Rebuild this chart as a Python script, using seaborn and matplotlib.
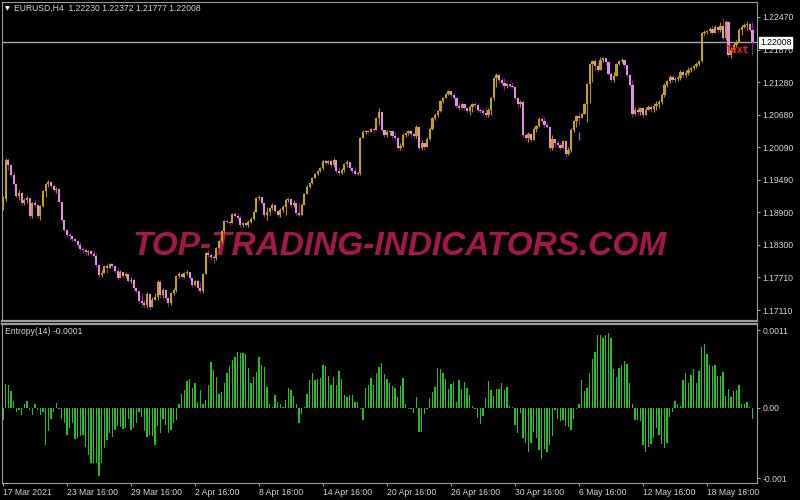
import numpy as np
import pandas as pd
import matplotlib
matplotlib.use("Agg")
import matplotlib.pyplot as plt
import seaborn as sns
from matplotlib import font_manager

# ------------------------------
# EURUSD H4 candles (open = previous close)
# ------------------------------
first_open = 1.1903

close = [
    1.1914, 1.1985, 1.1976, 1.1958, 1.1942, 1.1919, 1.1925, 1.1907, 1.1912, 1.1916,
    1.1883, 1.1907, 1.1903, 1.1883, 1.1901, 1.1929, 1.1942, 1.1945, 1.1938, 1.1931,
    1.1932, 1.1909, 1.1876, 1.1857, 1.1848, 1.1846, 1.1841, 1.1837, 1.1830, 1.1822,
    1.1821, 1.1817, 1.1819, 1.1813, 1.1810, 1.1793, 1.1775, 1.1779, 1.1791, 1.1788,
    1.1795, 1.1791, 1.1782, 1.1769, 1.1780, 1.1773, 1.1777, 1.1764, 1.1766, 1.1751,
    1.1746, 1.1727, 1.1724, 1.1720, 1.1740, 1.1716, 1.1729, 1.1735, 1.1762, 1.1738,
    1.1747, 1.1733, 1.1724, 1.1742, 1.1747, 1.1773, 1.1777, 1.1771, 1.1779, 1.1780,
    1.1769, 1.1757, 1.1764, 1.1751, 1.1746, 1.1777, 1.1815, 1.1812, 1.1808, 1.1806,
    1.1824, 1.1837, 1.1855, 1.1874, 1.1872, 1.1870, 1.1887, 1.1883, 1.1879, 1.1866,
    1.1870, 1.1866, 1.1872, 1.1877, 1.1890, 1.1916, 1.1918, 1.1907, 1.1885, 1.1890,
    1.1898, 1.1903, 1.1892, 1.1885, 1.1894, 1.1900, 1.1912, 1.1914, 1.1903, 1.1907,
    1.1888, 1.1885, 1.1903, 1.1923, 1.1936, 1.1944, 1.1953, 1.1960, 1.1965, 1.1971,
    1.1984, 1.1980, 1.1984, 1.1976, 1.1985, 1.1965, 1.1962, 1.1967, 1.1978, 1.1982,
    1.1971, 1.1965, 1.1960, 1.1962, 1.2026, 1.2037, 1.2038, 1.2037, 1.2042, 1.2040,
    1.2062, 1.2073, 1.2040, 1.2031, 1.2037, 1.2038, 1.2029, 1.2026, 1.2007, 1.2011,
    1.2031, 1.2035, 1.2038, 1.2033, 1.2029, 1.2046, 1.2007, 1.2016, 1.2009, 1.2024,
    1.2042, 1.2062, 1.2068, 1.2075, 1.2093, 1.2099, 1.2106, 1.2112, 1.2104, 1.2099,
    1.2084, 1.2081, 1.2088, 1.2081, 1.2075, 1.2083, 1.2088, 1.2086, 1.2077, 1.2075,
    1.2072, 1.2068, 1.2077, 1.2099, 1.2135, 1.2141, 1.2132, 1.2126, 1.2121, 1.2124,
    1.2121, 1.2119, 1.2099, 1.2088, 1.2092, 1.2031, 1.2026, 1.2033, 1.2022, 1.2042,
    1.2048, 1.2060, 1.2057, 1.2049, 1.2046, 1.2007, 1.2024, 1.2016, 1.2013, 1.2007,
    1.2020, 1.1996, 1.2004, 1.2040, 1.2057, 1.2066, 1.2062, 1.2070, 1.2088, 1.2124,
    1.2161, 1.2166, 1.2157, 1.2150, 1.2168, 1.2172, 1.2165, 1.2143, 1.2132, 1.2139,
    1.2161, 1.2166, 1.2168, 1.2159, 1.2141, 1.2123, 1.2070, 1.2077, 1.2073, 1.2081,
    1.2068, 1.2077, 1.2083, 1.2079, 1.2084, 1.2088, 1.2092, 1.2104, 1.2123, 1.2130,
    1.2137, 1.2132, 1.2133, 1.2135, 1.2146, 1.2141, 1.2144, 1.2150, 1.2154, 1.2157,
    1.2161, 1.2166, 1.2218, 1.2220, 1.2221, 1.2225, 1.2218, 1.2229, 1.2223, 1.2231,
    1.2209, 1.2238, 1.2177, 1.2187, 1.2196, 1.2201, 1.2223, 1.2229, 1.2232, 1.2234,
    1.2223, 1.22008,
]

high = [
    1.1919, 1.1989, 1.1989, 1.1976, 1.1964, 1.1944, 1.1931, 1.1927, 1.1916, 1.1919,
    1.1916, 1.1909, 1.1912, 1.1903, 1.1903, 1.1931, 1.1944, 1.1949, 1.1947, 1.1940,
    1.1936, 1.1934, 1.1909, 1.1876, 1.1857, 1.1852, 1.1848, 1.1843, 1.1839, 1.1835,
    1.1826, 1.1824, 1.1821, 1.1821, 1.1821, 1.1815, 1.1793, 1.1784, 1.1793, 1.1797,
    1.1797, 1.1797, 1.1791, 1.1788, 1.1784, 1.1780, 1.1780, 1.1777, 1.1771, 1.1769,
    1.1753, 1.1746, 1.1742, 1.1729, 1.1744, 1.1742, 1.1735, 1.1742, 1.1766, 1.1766,
    1.1751, 1.1747, 1.1735, 1.1744, 1.1751, 1.1775, 1.1780, 1.1779, 1.1780, 1.1784,
    1.1780, 1.1769, 1.1766, 1.1766, 1.1762, 1.1779, 1.1817, 1.1821, 1.1815, 1.1812,
    1.1826, 1.1839, 1.1857, 1.1876, 1.1876, 1.1876, 1.1888, 1.1890, 1.1888, 1.1885,
    1.1872, 1.1872, 1.1876, 1.1881, 1.1894, 1.1918, 1.1921, 1.1918, 1.1907, 1.1900,
    1.1900, 1.1907, 1.1903, 1.1894, 1.1898, 1.1903, 1.1916, 1.1916, 1.1914, 1.1912,
    1.1907, 1.1907, 1.1907, 1.1925, 1.1940, 1.1945, 1.1954, 1.1962, 1.1967, 1.1973,
    1.1985, 1.1985, 1.1985, 1.1985, 1.1989, 1.1985, 1.1973, 1.1971, 1.1980, 1.1985,
    1.1982, 1.1973, 1.1973, 1.1964, 1.2027, 1.2040, 1.2040, 1.2040, 1.2044, 1.2046,
    1.2064, 1.2081, 1.2073, 1.2040, 1.2040, 1.2040, 1.2038, 1.2037, 1.2027, 1.2016,
    1.2035, 1.2037, 1.2040, 1.2040, 1.2035, 1.2049, 1.2046, 1.2022, 1.2016, 1.2027,
    1.2046, 1.2064, 1.2072, 1.2077, 1.2095, 1.2101, 1.2108, 1.2113, 1.2112, 1.2108,
    1.2101, 1.2090, 1.2090, 1.2088, 1.2083, 1.2086, 1.2090, 1.2092, 1.2090, 1.2081,
    1.2081, 1.2083, 1.2081, 1.2101, 1.2137, 1.2145, 1.2145, 1.2135, 1.2135, 1.2126,
    1.2126, 1.2128, 1.2119, 1.2099, 1.2095, 1.2095, 1.2035, 1.2037, 1.2035, 1.2046,
    1.2049, 1.2064, 1.2068, 1.2064, 1.2055, 1.2046, 1.2031, 1.2024, 1.2022, 1.2016,
    1.2022, 1.2022, 1.2009, 1.2044, 1.2059, 1.2068, 1.2072, 1.2072, 1.2090, 1.2126,
    1.2163, 1.2168, 1.2172, 1.2165, 1.2174, 1.2174, 1.2172, 1.2165, 1.2146, 1.2146,
    1.2163, 1.2168, 1.2172, 1.2165, 1.2150, 1.2141, 1.2132, 1.2083, 1.2083, 1.2083,
    1.2083, 1.2083, 1.2086, 1.2086, 1.2090, 1.2093, 1.2095, 1.2108, 1.2126, 1.2132,
    1.2141, 1.2141, 1.2137, 1.2139, 1.2150, 1.2150, 1.2150, 1.2155, 1.2155, 1.2159,
    1.2165, 1.2168, 1.2220, 1.2223, 1.2223, 1.2229, 1.2232, 1.2232, 1.2229, 1.2238,
    1.2245, 1.2242, 1.2238, 1.2192, 1.2201, 1.2205, 1.2227, 1.2232, 1.2236, 1.2240,
    1.2238, 1.22372,
]

low = [
    1.1894, 1.1910, 1.1967, 1.1954, 1.1940, 1.1916, 1.1912, 1.1903, 1.1903, 1.1907,
    1.1879, 1.1879, 1.1900, 1.1879, 1.1876, 1.1900, 1.1918, 1.1936, 1.1934, 1.1927,
    1.1925, 1.1907, 1.1872, 1.1854, 1.1844, 1.1839, 1.1837, 1.1835, 1.1826, 1.1821,
    1.1815, 1.1812, 1.1812, 1.1810, 1.1808, 1.1789, 1.1771, 1.1771, 1.1779, 1.1779,
    1.1788, 1.1788, 1.1779, 1.1766, 1.1769, 1.1769, 1.1769, 1.1762, 1.1760, 1.1747,
    1.1742, 1.1724, 1.1716, 1.1714, 1.1714, 1.1711, 1.1716, 1.1729, 1.1729, 1.1733,
    1.1733, 1.1729, 1.1716, 1.1720, 1.1738, 1.1744, 1.1769, 1.1769, 1.1769, 1.1775,
    1.1766, 1.1753, 1.1755, 1.1747, 1.1742, 1.1742, 1.1777, 1.1808, 1.1802, 1.1797,
    1.1802, 1.1824, 1.1833, 1.1852, 1.1870, 1.1866, 1.1870, 1.1881, 1.1876, 1.1863,
    1.1863, 1.1863, 1.1863, 1.1870, 1.1876, 1.1890, 1.1912, 1.1903, 1.1881, 1.1876,
    1.1885, 1.1894, 1.1888, 1.1881, 1.1881, 1.1890, 1.1885, 1.1909, 1.1900, 1.1900,
    1.1885, 1.1881, 1.1885, 1.1903, 1.1923, 1.1934, 1.1942, 1.1953, 1.1958, 1.1964,
    1.1967, 1.1976, 1.1978, 1.1973, 1.1973, 1.1962, 1.1958, 1.1960, 1.1964, 1.1973,
    1.1967, 1.1962, 1.1958, 1.1958, 1.1958, 1.2026, 1.2033, 1.2035, 1.2037, 1.2035,
    1.2040, 1.2049, 1.2037, 1.2027, 1.2027, 1.2031, 1.2026, 1.2022, 1.2004, 1.2004,
    1.2009, 1.2027, 1.2031, 1.2027, 1.2026, 1.2026, 1.2004, 1.2004, 1.2004, 1.2009,
    1.2022, 1.2040, 1.2059, 1.2064, 1.2073, 1.2090, 1.2099, 1.2104, 1.2101, 1.2095,
    1.2081, 1.2077, 1.2081, 1.2077, 1.2072, 1.2068, 1.2073, 1.2081, 1.2073, 1.2072,
    1.2068, 1.2064, 1.2064, 1.2068, 1.2095, 1.2119, 1.2126, 1.2123, 1.2113, 1.2117,
    1.2117, 1.2117, 1.2095, 1.2083, 1.2083, 1.2027, 1.2022, 1.2018, 1.2018, 1.2022,
    1.2037, 1.2046, 1.2053, 1.2046, 1.2044, 1.2004, 1.2004, 1.2009, 1.2009, 1.2004,
    1.2007, 1.1991, 1.1995, 1.2000, 1.2037, 1.2046, 1.2049, 1.2062, 1.2072, 1.2055,
    1.2090, 1.2128, 1.2150, 1.2146, 1.2155, 1.2165, 1.2159, 1.2141, 1.2128, 1.2128,
    1.2141, 1.2159, 1.2163, 1.2155, 1.2137, 1.2119, 1.2064, 1.2068, 1.2068, 1.2068,
    1.2062, 1.2072, 1.2077, 1.2073, 1.2073, 1.2077, 1.2081, 1.2088, 1.2101, 1.2119,
    1.2126, 1.2128, 1.2128, 1.2130, 1.2132, 1.2137, 1.2137, 1.2141, 1.2146, 1.2150,
    1.2154, 1.2157, 1.2165, 1.2214, 1.2216, 1.2218, 1.2214, 1.2218, 1.2218, 1.2220,
    1.2205, 1.2205, 1.2174, 1.2172, 1.2183, 1.2192, 1.2201, 1.2214, 1.2227, 1.2223,
    1.2220, 1.21777,
]

# ------------------------------
# Entropy(14) histogram, in units of 0.0001
# ------------------------------
entropy_e4 = [
    -1.65, 3.45, 3.2, 2.4, 0.95, -0.6, -0.3, -0.95, 0.5, 0.95,
    -0.3, -0.95, 0.5, -0.3, -0.95, -0.6, -5.2, -3.3, -1.5, -0.6,
    0.7, -0.2, -1.5, -2.1, -3.9, -2.8, -2.1, -4.4, -4.3, -4.0,
    -3.8, -5.6, -6.7, -7.8, -7.8, -7.8, -9.6, -7.8, -5.7, -4.6,
    -3.5, -4.1, -3.1, -2.6, -2.7, -3.0, -2.8, -1.6, -3.1, -2.8,
    -2.1, -0.6, -1.3, -3.3, -4.1, -3.8, -4.0, -5.3, -2.6, -3.5,
    -1.6, -2.4, -3.5, -3.1, -2.2, -1.7, 0.5, 2.0, 2.5, 3.8,
    4.1, 2.9, 3.5, 0.9, 2.5, 0.5, 1.1, 3.2, 6.5, 5.4,
    4.4, 2.0, 2.3, 3.6, 5.0, 5.9, 6.8, 7.2, 8.0, 7.8,
    7.8, 7.6, 5.6, 3.6, 4.4, 5.1, 7.3, 6.1, 5.8, 3.0,
    0.6, 0.1, 1.8, 0.9, 0.6, 0.1, 1.1, 2.9, 2.6, 1.7,
    0.6, -2.2, -0.8, 0.2, 2.0, 3.9, 4.9, 3.9, 4.1, 4.2,
    6.1, 5.9, 4.5, 3.3, 4.4, 3.3, 5.2, 4.1, 1.9, 1.5,
    1.8, 1.8, 0.9, 0.8, -0.1, -1.7, 2.8, 3.3, 4.2, 3.3,
    5.0, 5.8, 6.4, 4.8, 4.1, 3.6, 3.1, 2.8, 1.5, 3.1,
    4.3, 0.5, -0.2, -0.2, -0.7, 1.5, -3.4, -3.4, -0.9, -0.2,
    1.4, 2.3, 3.0, 5.7, 5.5, 4.9, 4.1, 2.7, 3.4, 3.7,
    0.9, 3.9, 2.7, 3.7, 2.8, 1.8, 0.3, -0.1, -1.4, -2.3,
    -1.1, 1.4, 3.8, 2.6, 1.7, 2.7, 2.7, 3.6, 2.5, 3.0,
    0.3, 0.1, -2.4, -3.5, -0.7, -4.3, -4.9, -6.3, -4.9, -3.4,
    -4.3, -6.0, -7.3, -5.8, -6.2, -5.2, -4.0, -0.3, -1.5, -1.9,
    -1.7, -2.6, -2.7, -3.1, -1.5, -0.1, 0.5, 3.9, 2.4, 2.8,
    4.9, 6.9, 8.0, 10.4, 10.4, 9.9, 10.4, 10.7, 9.9, 5.5,
    4.4, 5.7, 6.1, 6.6, 6.2, 3.6, 0.5, -1.7, -1.7, -1.8,
    -5.3, -6.3, -5.6, -5.1, -4.2, -2.8, -3.8, -5.1, -5.7, -4.9,
    -1.3, -0.5, 1.0, 0.6, 0.3, 3.9, 5.0, 3.6, 4.7, 5.5,
    3.5, 5.3, 8.7, 9.1, 7.7, 6.1, 6.0, 6.1, 4.5, 4.6,
    5.1, 1.7, 2.7, 1.6, 2.4, 2.5, 3.3, 0.6, 0.6, 0.9,
    0.1, -1.5,
]

# ------------------------------
# Axis ticks / labels
# ------------------------------
date_ticks = [0, 24, 48, 72, 96, 120, 144, 168, 192, 216, 240, 264]
date_labels = ["17 Mar 2021", "23 Mar 16:00", "29 Mar 16:00", "2 Apr 16:00",
               "8 Apr 16:00", "14 Apr 16:00", "20 Apr 16:00", "26 Apr 16:00",
               "30 Apr 16:00", "6 May 16:00", "12 May 16:00", "18 May 16:00"]
price_ticks = [1.22470, 1.21870, 1.21280, 1.20680, 1.20090,
               1.19490, 1.18900, 1.18300, 1.17710, 1.17110]
entropy_ticks = [0.0011, 0.0, -0.001]
entropy_labels = ["0.0011", "0.00", "-0.001"]

header = "EURUSD,H4  1.22230 1.22372 1.21777 1.22008"
indicator_name = "Entropy(14) -0.0001"
watermark = "TOP-TRADING-INDICATORS.COM"

# small chart objects
signal_bar, signal_low, signal_high = 216, 1.2022, 1.2037
text_bar, text_price = 271, 1.2187

# ------------------------------
# Build the frames
# ------------------------------
df = pd.DataFrame({"close": close, "high": high, "low": low})
df["open"] = [first_open] + close[:-1]
df["high"] = df[["high", "open", "close"]].max(axis=1)
df["low"] = df[["low", "open", "close"]].min(axis=1)
df["up"] = df["close"] >= df["open"]
df["bar"] = np.arange(len(df))

hist_df = pd.DataFrame({"bar": np.arange(len(entropy_e4)),
                        "entropy": np.array(entropy_e4) * 1e-4})

# ------------------------------
# Style
# ------------------------------
sns.set_theme(style="dark", rc={"axes.facecolor": "black",
                                "figure.facecolor": "black"})
plt.rcParams["font.family"] = ["Liberation Sans", "DejaVu Sans"]

ui_grey = "#d4d4d4"
frame_grey = "#9c9c9c"
up_body, up_wick = "#c4a20c", "#b39300"
dn_body, dn_wick = "#e38be6", "#8c1a96"
hist_green = "#1ec41e"

installed = {f.name for f in font_manager.fontManager.ttflist}
if "Liberation Sans Narrow" in installed:
    wm_family, wm_size = "Liberation Sans Narrow", 29
else:
    wm_family, wm_size = "Liberation Sans", 24

fig = plt.figure(figsize=(8, 5), dpi=100, facecolor="black")
ax1 = fig.add_axes([2 / 800, 1 - 321 / 500, 755 / 800, 319 / 500])
ax2 = fig.add_axes([2 / 800, 1 - 483 / 500, 755 / 800, 159 / 500])

n = len(df)
xlim = (-0.4, n + 0.7)

# ------------------------------
# Candles
# ------------------------------
ax1.text(0.527, 0.235, watermark, transform=ax1.transAxes, ha="center", va="center",
         fontsize=wm_size, fontweight="bold", fontstyle="italic",
         family=[wm_family, "DejaVu Sans"], color="#a3174c", zorder=0.5)

wick_colors = np.where(df["up"], up_wick, dn_wick)
body_colors = np.where(df["up"], up_body, dn_body)
ax1.vlines(df["bar"], df["low"], df["high"], colors=wick_colors, lw=0.8, zorder=2)
body_bottom = df[["open", "close"]].min(axis=1)
body_height = (df["close"] - df["open"]).abs().clip(lower=0.00012)
ax1.bar(df["bar"], body_height, bottom=body_bottom, width=0.8,
        color=body_colors, linewidth=0, zorder=3)

ax1.vlines(signal_bar, signal_low, signal_high, colors="#4f86c8", lw=1.0, zorder=3)
ax1.text(text_bar, text_price, "Text", color="#ff1e1e", fontsize=7, fontweight="bold",
         family=["DejaVu Sans Mono"], ha="left", va="center", zorder=4)

last_close = close[-1]
ax1.axhline(last_close, color="#a8a8a8", lw=1.0, zorder=1)

ax1.set_xlim(*xlim)
ax1.set_ylim(1.16909, 1.22744)
ax1.yaxis.tick_right()
ax1.set_yticks(price_ticks)
ax1.set_yticklabels([f"{p:.5f}" for p in price_ticks])
ax1.tick_params(axis="y", colors=frame_grey, labelcolor=ui_grey, labelsize=6.2,
                length=2.5, width=0.8, pad=1.5, direction="out", right=True, left=False)
ax1.tick_params(axis="x", bottom=False, labelbottom=False)
ax1.annotate(f"{last_close:.5f}", xy=(1, last_close), xycoords=("axes fraction", "data"),
             xytext=(2.2, 0), textcoords="offset points", ha="left", va="center",
             fontsize=6.2, color="black", annotation_clip=False, zorder=6,
             bbox=dict(boxstyle="square,pad=0.1", fc="white", ec="white"))

# ------------------------------
# Entropy histogram
# ------------------------------
sns.barplot(data=hist_df, x="bar", y="entropy", ax=ax2, native_scale=True,
            color=hist_green, saturation=1, width=0.5, errorbar=None, linewidth=0)
ax2.set_xlim(*xlim)
ax2.set_ylim(-0.001064, 0.001191)
ax2.set_xlabel("")
ax2.set_ylabel("")
ax2.yaxis.tick_right()
ax2.set_yticks(entropy_ticks)
ax2.set_yticklabels(entropy_labels)
ax2.set_xticks(date_ticks)
ax2.set_xticklabels(date_labels, ha="left")
ax2.tick_params(axis="y", colors=frame_grey, labelcolor=ui_grey, labelsize=6.2,
                length=2.5, width=0.8, pad=1.5, direction="out", right=True, left=False)
ax2.tick_params(axis="x", colors=frame_grey, labelcolor=ui_grey, labelsize=6.2,
                length=2.5, width=0.8, pad=1.0, direction="out", bottom=True)

for ax in (ax1, ax2):
    ax.grid(False)
    for side, spine in ax.spines.items():
        spine.set_visible(True)
        spine.set_color(frame_grey)
        spine.set_linewidth(0.8)
ax1.spines["bottom"].set_linewidth(1.6)
ax2.spines["top"].set_linewidth(1.6)

# ------------------------------
# Header texts
# ------------------------------
fig.text(5 / 800, 1 - 8.5 / 500, "\u25BC", fontsize=4.5, color="white",
         family=["DejaVu Sans"], ha="left", va="center")
fig.text(14 / 800, 1 - 8.5 / 500, header, fontsize=6.2, color=ui_grey,
         ha="left", va="center")
fig.text(5 / 800, 1 - 331.5 / 500, indicator_name, fontsize=6.2, color=ui_grey,
         ha="left", va="center")

fig.savefig("out.png", dpi=100, facecolor="black")
